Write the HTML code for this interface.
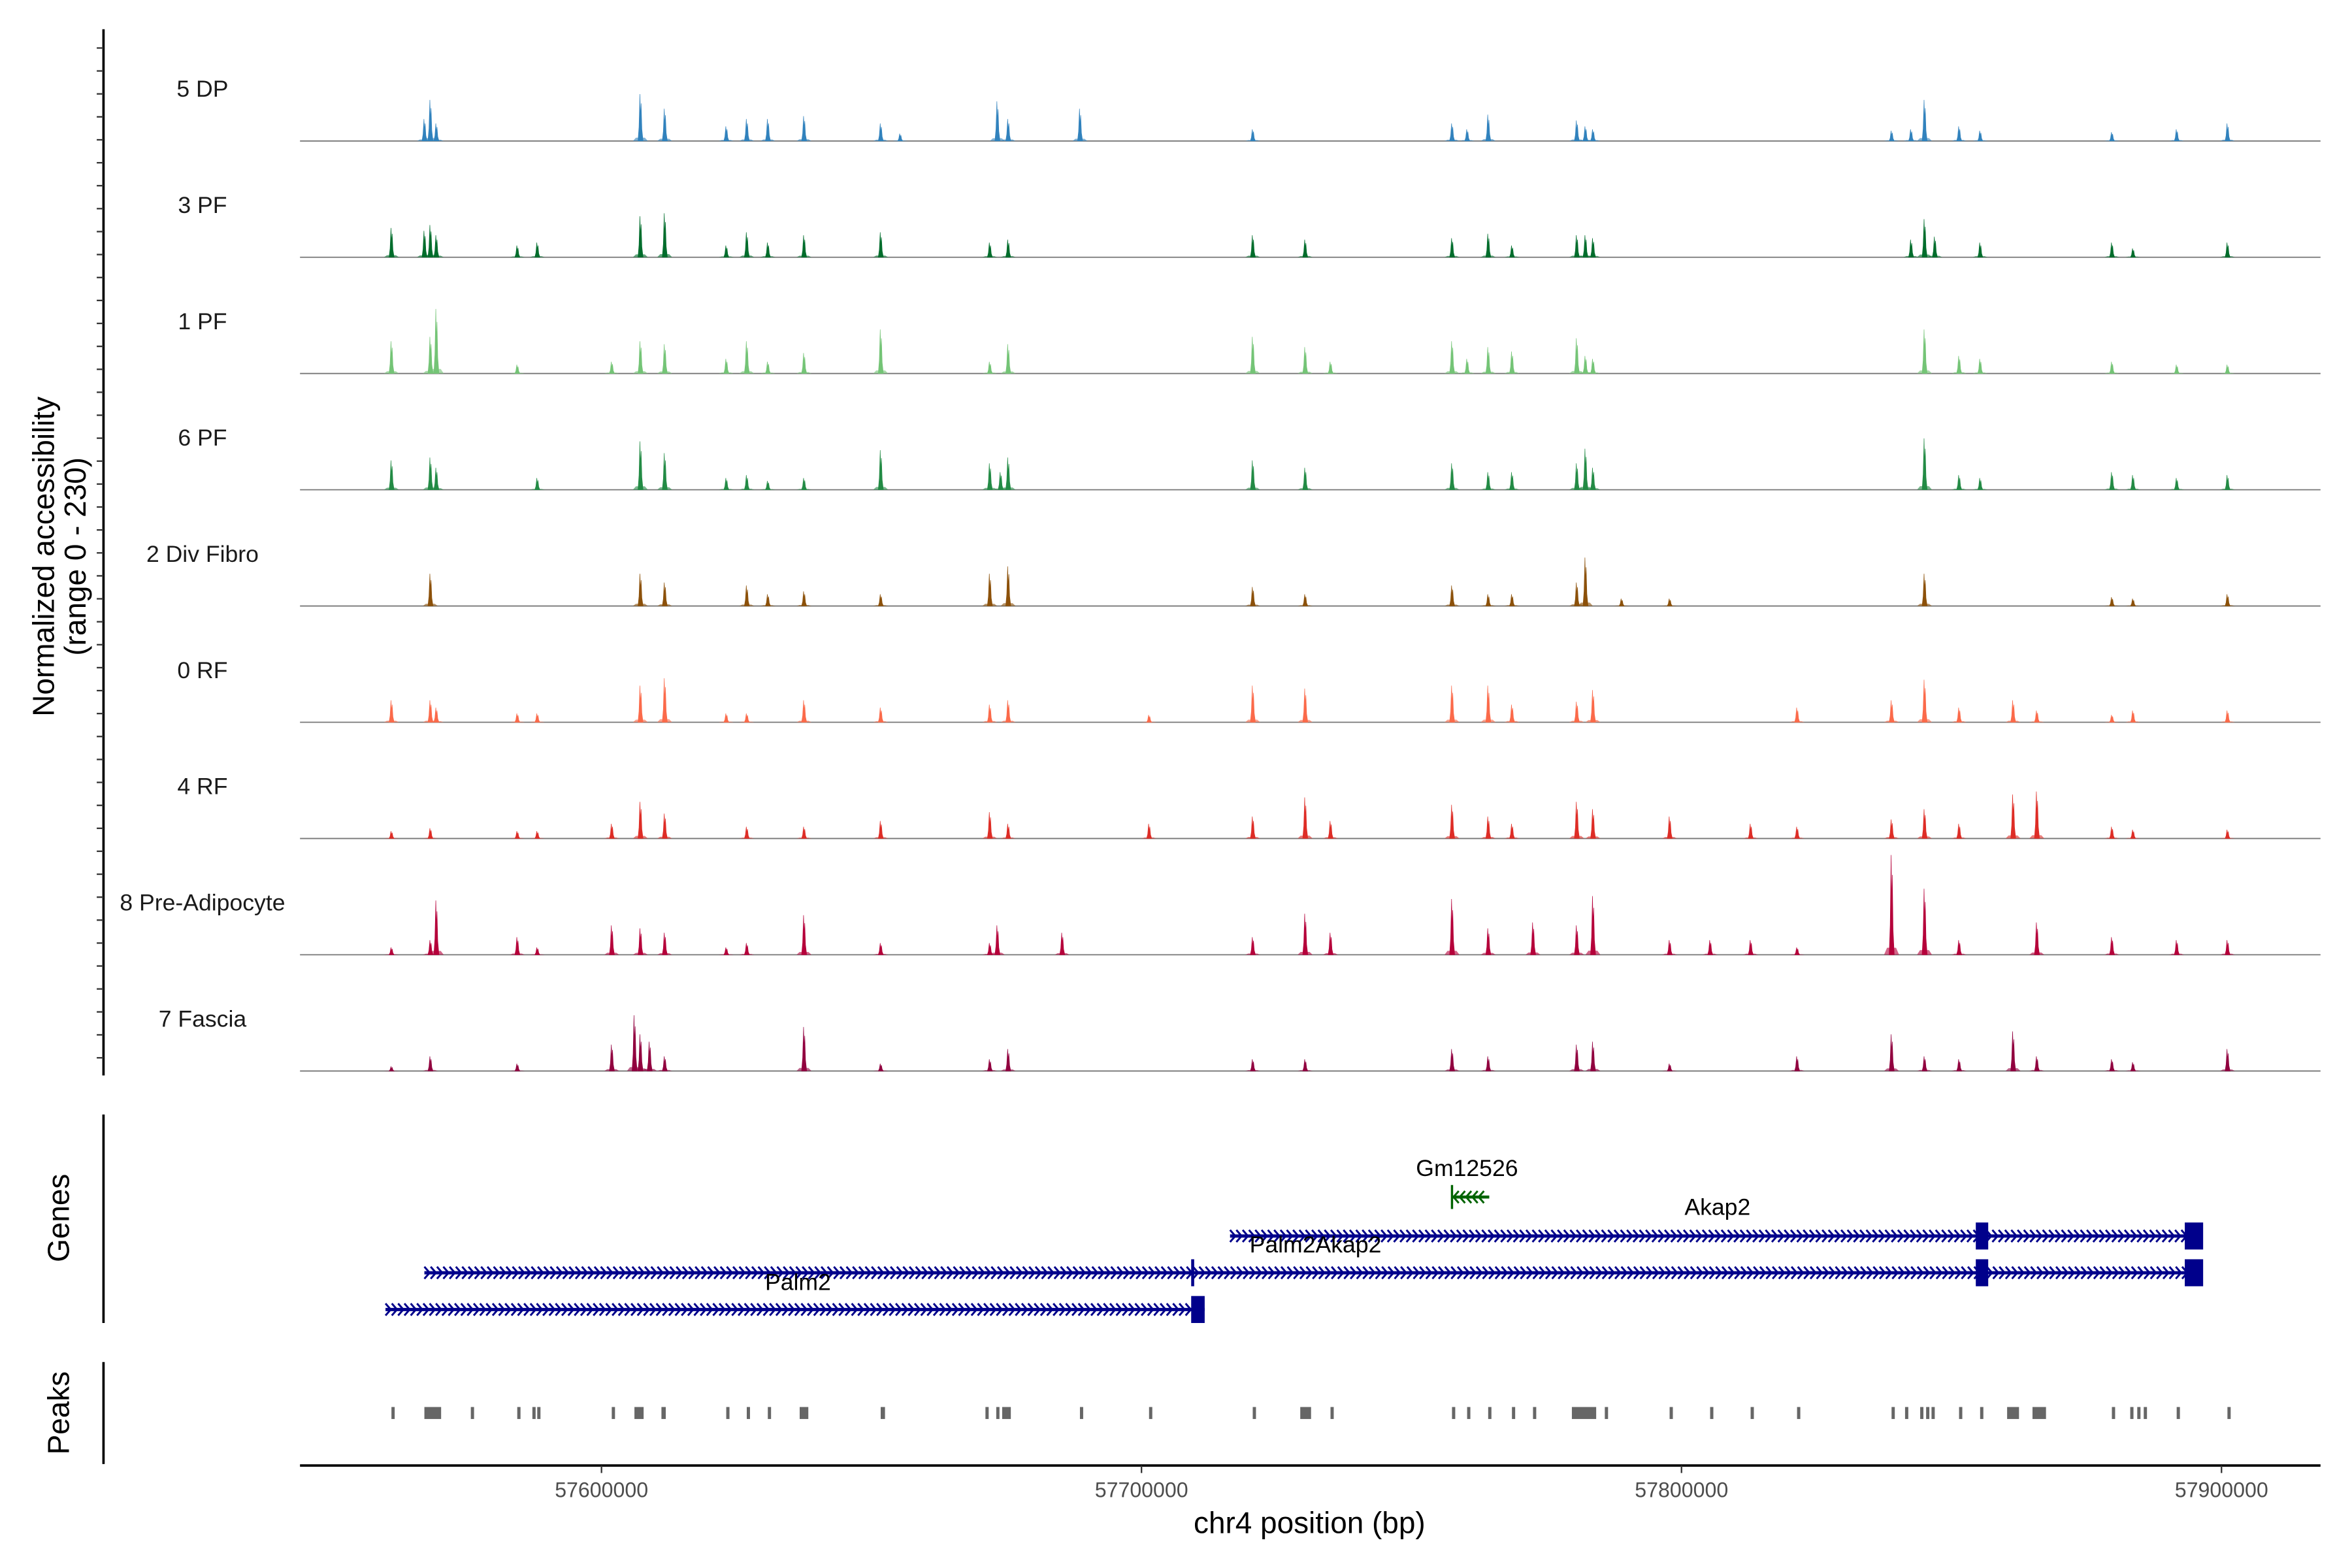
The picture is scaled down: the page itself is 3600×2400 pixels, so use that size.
<!DOCTYPE html>
<html><head><meta charset="utf-8"><style>
html,body{margin:0;padding:0;background:#fff;}
svg{display:block;font-family:"Liberation Sans",Arial,sans-serif;}
</style></head><body>
<svg id="chart" width="3600" height="2400" viewBox="0 0 1568 1045.33" xmlns="http://www.w3.org/2000/svg">
<rect width="1568" height="1046" fill="#fff"/>
<g id="tracks"></g>
<g id="genes"></g>
<g id="peaks"></g>
<g id="axes"></g>
</svg>
<script>
const NS="http://www.w3.org/2000/svg";
const trackNames=["5 DP","3 PF","1 PF","6 PF","2 Div Fibro","0 RF","4 RF","8 Pre-Adipocyte","7 Fascia"];
const trackColors=["#3182bd","#006d2c","#74c476","#238b45","#8c510a","#fb6a4a","#de2d26","#b5003a","#91003f"];
// peaks per track: [position kb, normalized accessibility]
const t5DP=[[57567.2,45],[57568.3,84],[57569.4,36],[57607.2,96],[57611.7,66],[57623.1,30],[57626.9,45],[57630.8,45],[57637.5,51],[57651.7,36],[57655.3,15],[57673.3,81],[57675.3,45],[57688.6,66],[57720.6,24],[57757.5,36],[57760.3,24],[57764.2,54],[57780.6,42],[57782.2,30],[57783.6,24],[57838.9,21],[57842.5,24],[57845.0,84],[57851.4,30],[57855.3,21],[57879.7,18],[57891.7,24],[57901.1,36]];
const t3PF=[[57561.1,60],[57567.2,54],[57568.3,66],[57569.4,45],[57584.4,24],[57588.1,30],[57607.2,84],[57611.7,90],[57623.1,24],[57626.9,51],[57630.8,30],[57637.5,45],[57651.7,51],[57671.9,30],[57675.3,36],[57720.6,45],[57730.3,36],[57757.5,39],[57764.2,48],[57768.6,24],[57780.6,45],[57782.2,45],[57783.6,39],[57842.5,36],[57845.0,78],[57846.9,42],[57855.3,30],[57879.7,30],[57883.6,18],[57901.1,30]];
const t1PF=[[57561.1,66],[57568.3,75],[57569.4,132],[57584.4,18],[57601.9,24],[57607.2,66],[57611.7,60],[57623.1,30],[57626.9,66],[57630.8,24],[57637.5,42],[57651.7,90],[57671.9,24],[57675.3,60],[57720.6,75],[57730.3,54],[57735.0,24],[57757.5,66],[57760.3,30],[57764.2,54],[57768.6,45],[57780.6,72],[57782.2,36],[57783.6,30],[57845.0,90],[57851.4,36],[57855.3,30],[57879.7,24],[57891.7,18],[57901.1,18]];
const t6PF=[[57561.1,60],[57568.3,66],[57569.4,45],[57588.1,24],[57607.2,99],[57611.7,75],[57623.1,24],[57626.9,30],[57630.8,18],[57637.5,24],[57651.7,81],[57671.9,54],[57673.9,36],[57675.3,66],[57720.6,60],[57730.3,45],[57757.5,54],[57764.2,36],[57768.6,36],[57780.6,54],[57782.2,84],[57783.6,45],[57845.0,105],[57851.4,30],[57855.3,24],[57879.7,36],[57883.6,30],[57891.7,24],[57901.1,30]];
const t2DF=[[57568.3,66],[57607.2,66],[57611.7,48],[57626.9,42],[57630.8,24],[57637.5,30],[57651.7,24],[57671.9,66],[57675.3,81],[57720.6,39],[57730.3,24],[57757.5,42],[57764.2,24],[57768.6,24],[57780.6,48],[57782.2,99],[57788.9,15],[57797.8,15],[57845.0,66],[57879.7,18],[57883.6,15],[57901.1,24]];
const t0RF=[[57561.1,45],[57568.3,45],[57569.4,30],[57584.4,18],[57588.1,18],[57607.2,75],[57611.7,90],[57623.1,18],[57626.9,18],[57637.5,45],[57651.7,30],[57671.9,36],[57675.3,45],[57701.4,15],[57720.6,75],[57730.3,69],[57757.5,75],[57764.2,75],[57768.6,36],[57780.6,42],[57783.6,66],[57821.4,30],[57838.9,45],[57845.0,87],[57851.4,30],[57861.4,45],[57865.8,24],[57879.7,15],[57883.6,24],[57901.1,24]];
const t4RF=[[57561.1,15],[57568.3,21],[57584.4,15],[57588.1,15],[57601.9,30],[57607.2,75],[57611.7,51],[57626.9,24],[57637.5,24],[57651.7,36],[57671.9,54],[57675.3,30],[57701.4,30],[57720.6,45],[57730.3,84],[57735.0,36],[57757.5,69],[57764.2,45],[57768.6,30],[57780.6,75],[57783.6,60],[57797.8,45],[57812.8,30],[57821.4,24],[57838.9,39],[57845.0,60],[57851.4,30],[57861.4,90],[57865.8,96],[57879.7,24],[57883.6,18],[57901.1,18]];
const t8PA=[[57561.1,15],[57568.3,30],[57569.4,111],[57584.4,36],[57588.1,15],[57601.9,60],[57607.2,54],[57611.7,45],[57623.1,15],[57626.9,24],[57637.5,81],[57651.7,24],[57671.9,24],[57673.3,60],[57685.3,45],[57720.6,36],[57730.3,84],[57735.0,45],[57757.5,114],[57764.2,54],[57772.5,66],[57780.6,60],[57783.6,120],[57797.8,30],[57805.3,30],[57812.8,30],[57821.4,15],[57838.9,204],[57845.0,135],[57851.4,30],[57865.8,66],[57879.7,36],[57891.7,30],[57901.1,30]];
const t7FA=[[57561.1,9],[57568.3,30],[57584.4,15],[57601.9,54],[57606.1,114],[57607.2,75],[57608.9,60],[57611.7,30],[57637.5,90],[57651.7,15],[57671.9,24],[57675.3,45],[57720.6,24],[57730.3,24],[57757.5,45],[57764.2,30],[57780.6,54],[57783.6,60],[57797.8,15],[57821.4,30],[57838.9,75],[57845.0,30],[57851.4,24],[57861.4,81],[57865.8,30],[57879.7,24],[57883.6,18],[57901.1,45]];
const trackData=[t5DP,t3PF,t1PF,t6PF,t2DF,t0RF,t4RF,t8PA,t7FA];
const peakRegions=[[57561.1,57561.7],[57567.2,57570.3],[57575.8,57576.4],[57584.4,57585.0],[57587.2,57587.8],[57588.1,57588.7],[57601.9,57602.5],[57606.1,57607.8],[57611.1,57611.9],[57623.1,57623.7],[57626.9,57627.5],[57630.8,57631.4],[57636.7,57638.3],[57651.7,57652.5],[57671.1,57671.7],[57673.1,57673.7],[57674.2,57675.8],[57688.6,57689.2],[57701.4,57702.0],[57720.6,57721.2],[57729.4,57731.4],[57735.0,57735.6],[57757.5,57758.1],[57760.3,57760.9],[57764.2,57764.8],[57768.6,57769.2],[57772.5,57773.1],[57779.7,57784.2],[57785.8,57786.4],[57797.8,57798.4],[57805.3,57805.9],[57812.8,57813.4],[57821.4,57822.0],[57838.9,57839.5],[57841.4,57842.0],[57844.2,57844.8],[57845.3,57845.9],[57846.3,57846.9],[57851.4,57852.0],[57855.3,57855.9],[57860.3,57862.5],[57865.0,57867.5],[57879.7,57880.3],[57883.1,57883.7],[57884.4,57885.0],[57885.6,57886.2],[57891.7,57892.3],[57901.1,57901.7]];
const xTicks=[57600000,57700000,57800000,57900000];
const genes=[
 {name:"Akap2",start:57716.4,end:57896.4,row:0,strand:1,exons:[[57854.5,57856.8],[57893.2,57896.6]],label:[1145,810]},
 {name:"Palm2Akap2",start:57567.2,end:57896.4,row:1,strand:1,exons:[[57709.2,57709.7],[57854.5,57856.8],[57893.2,57896.6]],label:[877,835]},
 {name:"Palm2",start:57560.0,end:57711.7,row:2,strand:1,exons:[[57709.2,57711.7]],label:[532,860]}
];
const smallGene={name:"Gm12526",start:57757.5,end:57764.4,label:[978,784]};

const X0=401, PXKB=3.6;
function xs(kb){return X0+(kb-57600)*PXKB;}
function xbp(bp){return xs(bp/1000);}
const baselines=[94,171.5,249,326.5,404,481.5,559,636.5,714];
const YSC=75/230;
function mk(tag,attrs,parent){const e=document.createElementNS(NS,tag);for(const k in attrs)e.setAttribute(k,attrs[k]);parent.appendChild(e);return e;}

const tg=document.getElementById('tracks');
trackData.forEach((data,i)=>{
  const b=baselines[i], col=trackColors[i];
  const g=mk('g',{},tg);
  
  
  const lab=mk('text',{x:135,y:b-29.5,'font-size':15.5,'text-anchor':'middle',fill:'#1a1a1a'},g);
  lab.textContent=trackNames[i];
  
  
  const bl=mk('line',{x1:200,x2:1547,y1:b,y2:b,stroke:'#777','stroke-width':0.8},g);
  
  
  data.forEach(([kb,v])=>{
    const x=xs(kb), h=v*YSC;
    const d=`M${x-1.6},${b} L${x-0.9},${b-h*0.3} L${x-0.3},${b-h} L${x+0.1},${b-h*0.5} L${x+0.5},${b-h*0.8} L${x+1},${b-h*0.25} L${x+1.8},${b} Z`;
    const p=mk('path',{d:d,fill:col,stroke:col,'stroke-width':0.3},g);
    
    
    const s=mk('path',{d:`M${x-5},${b} L${x-3},${b-h*0.07} L${x+3},${b-h*0.07} L${x+5},${b} Z`,fill:col,opacity:0.6},g);
    
    
  });
});

const gg=document.getElementById('genes');
const rowsY=[824,848.5,873];
function chevrons(x1,x2,y,col,dir,parent){
  let d='';
  for(let x=x1;x<x2-3;x+=4.2){
    if(dir>0)d+=`M${x},${y-4} L${x+3.5},${y} L${x},${y+4} `;
    else d+=`M${x+3.5},${y-4} L${x},${y} L${x+3.5},${y+4} `;
  }
  const p=mk('path',{d:d,fill:'none',stroke:col,'stroke-width':1.3},parent);
  
  
}
genes.forEach(gn=>{
  const y=rowsY[gn.row];
  const g=mk('g',{},gg);
  
  
  const ln=mk('line',{x1:xs(gn.start),x2:xs(gn.end),y1:y,y2:y,stroke:'#00008b','stroke-width':2.2},g);
  
  
  chevrons(xs(gn.start),xs(gn.end),y,'#00008b',gn.strand,g);
  gn.exons.forEach(([s,e])=>{
    const w=Math.max(xs(e)-xs(s),2);
    const r=mk('rect',{x:xs(s),y:y-9,width:w,height:18,fill:'#00008b'},g);
    
    
  });
  const t=mk('text',{x:gn.label[0],y:gn.label[1],'font-size':15.5,'text-anchor':'middle',fill:'#000'},g);
  t.textContent=gn.name;
  
  
});
{
  const g=mk('g',{},gg);
  
  
  const y=798;
  mk('line',{x1:xs(smallGene.start),x2:xs(smallGene.end),y1:y,y2:y,stroke:'#006400','stroke-width':2},g);
  mk('line',{x1:xs(smallGene.start),x2:xs(smallGene.start),y1:y-8,y2:y+8,stroke:'#006400','stroke-width':1.5},g);
  chevrons(xs(smallGene.start)+1,xs(smallGene.end),y,'#006400',-1,g);
  const t=mk('text',{x:smallGene.label[0],y:smallGene.label[1],'font-size':15.5,'text-anchor':'middle',fill:'#000'},g);
  t.textContent=smallGene.name;
  
  
}

const pg=document.getElementById('peaks');
peakRegions.forEach(([s,e])=>{
  const r=mk('rect',{x:xs(s),y:938,width:Math.max(xs(e)-xs(s),1.8),height:8,fill:'#666'},pg);
  
  
});

const ag=document.getElementById('axes');
function line(a,n){const l=mk('line',a,ag);return l;}
line({x1:69,x2:69,y1:19.5,y2:717,stroke:'#000','stroke-width':1.6},'y-axis-line');
for(let y=32;y<717;y+=15.3){line({x1:64.5,x2:69,y1:y,y2:y,stroke:'#333','stroke-width':1},'y-axis-tick');}
line({x1:69,x2:69,y1:743,y2:882,stroke:'#000','stroke-width':1.6},'genes-axis-line');
line({x1:69,x2:69,y1:908,y2:976,stroke:'#000','stroke-width':1.6},'peaks-axis-line');
line({x1:200,x2:1547,y1:977,y2:977,stroke:'#000','stroke-width':1.6},'x-axis-line');
xTicks.forEach(v=>{
  const x=xbp(v);
  line({x1:x,x2:x,y1:977,y2:982,stroke:'#333','stroke-width':1},'x-axis-tick');
  const t=mk('text',{x:x,y:998,'font-size':14,'text-anchor':'middle',fill:'#4d4d4d'},ag);
  t.textContent=String(v);
  
  
});
function txt(s,a,n){const t=mk('text',a,ag);t.textContent=s;return t;}
txt('chr4 position (bp)',{x:873,y:1022,'font-size':20,'text-anchor':'middle',fill:'#000'},'x-axis-title');
txt('Normalized accessibility',{x:0,y:0,'font-size':20,'text-anchor':'middle',fill:'#000',transform:'translate(36,371) rotate(-90)'},'y-axis-title');
txt('(range 0 - 230)',{x:0,y:0,'font-size':20,'text-anchor':'middle',fill:'#000',transform:'translate(57,371) rotate(-90)'},'y-axis-subtitle');
txt('Genes',{x:0,y:0,'font-size':20,'text-anchor':'middle',fill:'#000',transform:'translate(46,812) rotate(-90)'},'genes-axis-title');
txt('Peaks',{x:0,y:0,'font-size':20,'text-anchor':'middle',fill:'#000',transform:'translate(46,942) rotate(-90)'},'peaks-axis-title');
</script>
</body></html>
